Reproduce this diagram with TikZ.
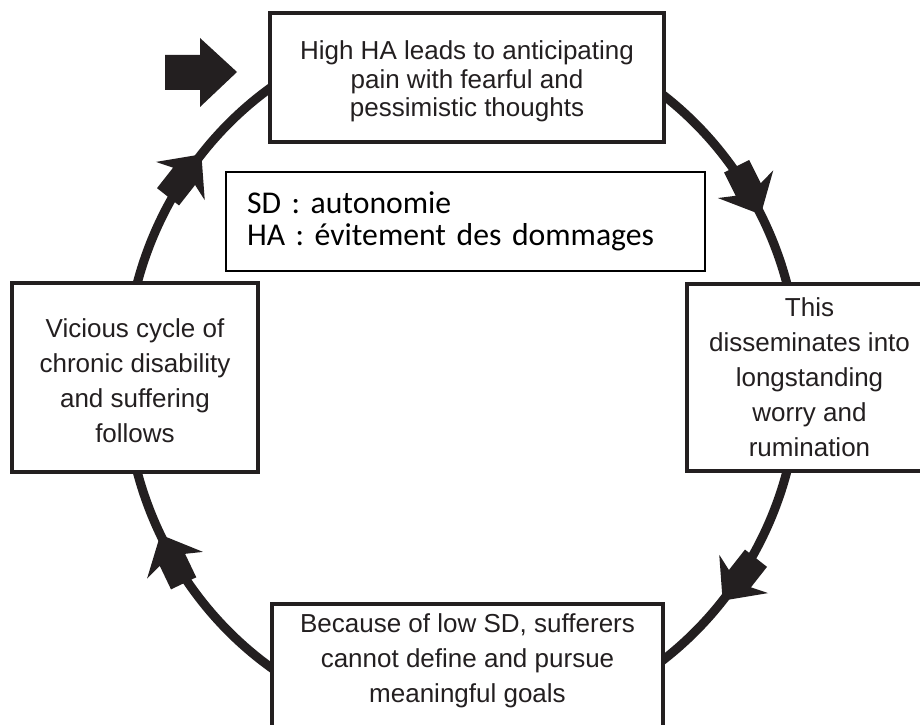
\documentclass[tikz,border=0pt]{standalone}
\usepackage{fontspec}
\setmainfont{Liberation Sans}
\newfontfamily\legendfont{Carlito}
\usetikzlibrary{decorations.markings}
\definecolor{ink}{RGB}{35,31,32}
\newcommand{\cyclehead}{\fill[ink] (0,0) -- (34,31) -- (28,14) -- (54,14) -- (54,-14) -- (28,-14) -- (34,-31) -- cycle;}
\begin{document}
\begin{tikzpicture}[x=1pt,y=1pt,
  box/.style={draw=ink, line width=3.5pt, fill=white, align=center, text=ink, inner sep=4pt,
              font=\fontsize{26}{35}\selectfont},
  legendbox/.style={draw=black, line width=2pt, fill=white, align=left, text=black,
              inner xsep=21pt, text width=437pt, minimum width=479pt, minimum height=99pt,
              font=\legendfont\fontsize{31.7}{32}\selectfont},
  cycleline/.style={draw=ink, line width=9pt},
  arrowmarks/.style={postaction={decorate}, decoration={markings,
      mark=at position 0.078 with {\cyclehead},
      mark=at position 0.389 with {\cyclehead},
      mark=at position 0.575 with {\cyclehead},
      mark=at position 0.889 with {\cyclehead}}}]
\useasboundingbox (0,0) rectangle (920,724);
\clip (0,0) rectangle (920,724);
\fill[white] (0,0) rectangle (920,724);
\coordinate (c) at (462,346.5);
% cycle
\draw[cycleline, arrowmarks] (c) ellipse [x radius=337, y radius=352];
% entry arrow
\fill[ink] (165,669) -- (200,669) -- (200,686) -- (237,652) -- (200,617) -- (200,634) -- (165,634) -- cycle;
% boxes
\node[box, minimum width=394pt, minimum height=129pt, font=\fontsize{26}{28.5}\selectfont] (top) at (467,646.5)
  {\mbox{}\\[-2pt]High HA leads to anticipating\\pain with fearful and\\pessimistic thoughts};
\node[box, minimum width=246pt, minimum height=189pt] (left) at (135,346.5)
  {\mbox{}\\[-9pt]Vicious cycle of\\chronic disability\\and suffering\\follows};
\node[box, minimum width=245pt, minimum height=187pt] (right) at (809.5,346.5)
  {This\\disseminates into\\longstanding\\worry and\\rumination};
\node[box, anchor=north, minimum width=391pt, minimum height=130pt] (bottom) at (467.5,122)
  {Because of low SD, sufferers\\cannot define and pursue\\meaningful goals\\[-13pt]\mbox{}};
\node[legendbox] (legend) at (465.5,502.5)
  {SD : autonomie\\HA : évitement des dommages};
\end{tikzpicture}
\end{document}
